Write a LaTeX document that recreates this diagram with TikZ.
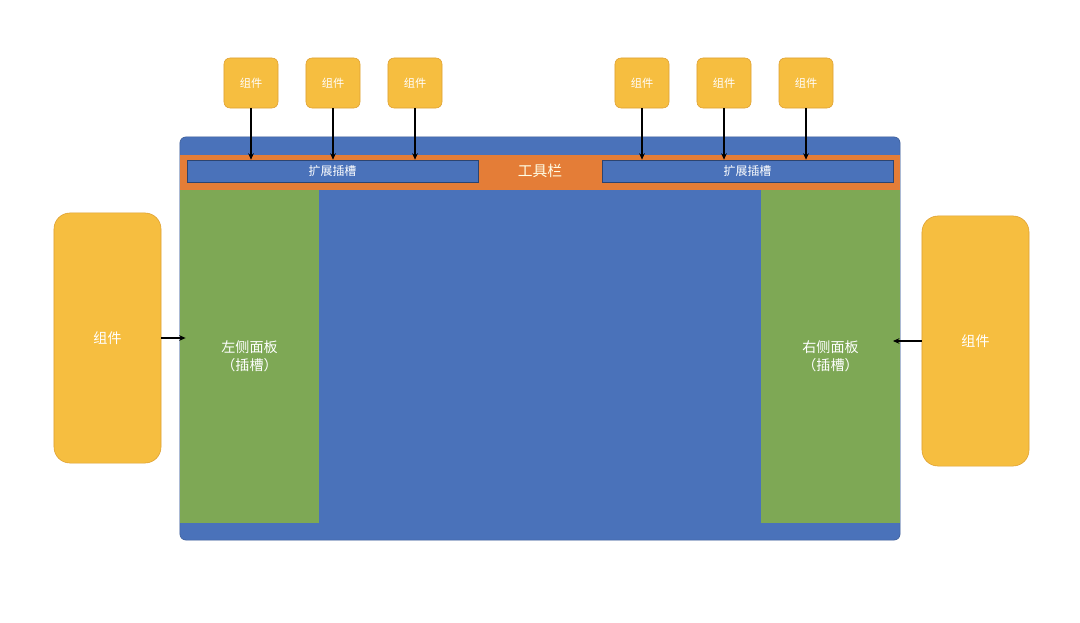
\documentclass[tikz,border=0pt]{standalone}
\usepackage{fontspec}
\setmainfont{Noto Sans CJK SC}
\definecolor{frame}{RGB}{74,114,186}
\definecolor{bar}{RGB}{228,125,55}
\definecolor{panel}{RGB}{126,168,85}
\definecolor{part}{RGB}{246,190,64}
\definecolor{partline}{RGB}{222,160,50}
\usetikzlibrary{arrows.meta,positioning}
\tikzset{
  shell/.style={fill=frame, draw=frame!80!black, rounded corners=0.15cm,
              inner sep=0pt, outer sep=0pt},
  slot/.style={fill=frame, draw=frame!60!black, thin, inner sep=0pt,
              text=white, font=\fontsize{8.5}{10}\selectfont,
              minimum width=7.275cm, minimum height=0.55cm},
  side/.style={fill=panel, inner sep=0pt, outer sep=0pt, text=white, align=center,
              font=\fontsize{10}{13}\selectfont,
              minimum width=3.475cm, minimum height=8.325cm},
  plug/.style={fill=part, draw=partline, thin, rounded corners=0.15cm, inner sep=0pt,
              text=white, font=\fontsize{8}{10}\selectfont,
              minimum width=1.35cm, minimum height=1.25cm},
  bigplug/.style={plug, rounded corners=0.4cm, font=\fontsize{10}{12}\selectfont,
              minimum width=2.675cm, minimum height=6.25cm},
  feed/.style={-{Stealth[length=1.6mm,width=1.4mm]}, thick, black},
}

\begin{document}
\begin{tikzpicture}[x=0.025cm, y=-0.025cm]
        \useasboundingbox (0,0) rectangle (1080,623);
        % window
        \node[shell,minimum width=18cm,minimum height=10.075cm] (win) at (540,338.5) {};
        \node[fill=bar,inner sep=0pt,minimum width=18cm,minimum height=0.875cm] (tools) at (540,172.5) {};
        \node[text=white!90!yellow,font=\fontsize{10.5}{12}\selectfont] (toolname) at (540,171) {工具栏};
        \node[slot] (slotL) at (332.5,171) {扩展插槽};
        \node[slot] (slotR) at (747.5,171) {扩展插槽};
        \node[side] (left) at (249.5,356.5) {左侧面板\\（插槽）};
        \node[side] (right) at (830.5,356.5) {右侧面板\\（插槽）};
        % parts on top
        \node[plug] (p1) at (251,83) {组件};
        \node[plug] (p2) at (333,83) {组件};
        \node[plug] (p3) at (415,83) {组件};
        \node[plug] (p4) at (642,83) {组件};
        \node[plug] (p5) at (724,83) {组件};
        \node[plug] (p6) at (806,83) {组件};
        \foreach \p in {p1,p2,p3} \draw[feed] (\p.south) -- (\p.south |- slotL.north);
        \foreach \p in {p4,p5,p6} \draw[feed] (\p.south) -- (\p.south |- slotR.north);
        % parts at the sides
        \node[bigplug] (pl) at (107.5,338) {组件};
        \node[bigplug] (pr) at (975.5,341) {组件};
        \draw[feed] (pl.east) -- ([xshift=4pt]pl.east -| left.west);
        \draw[feed] (pr.west) -- ([xshift=-5pt]pr.west -| right.east);
      \end{tikzpicture}
\end{document}
